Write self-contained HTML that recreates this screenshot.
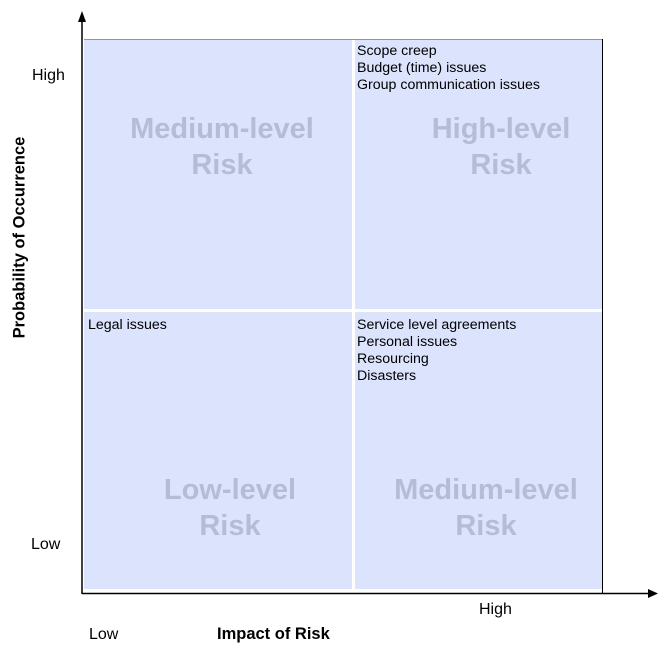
<!DOCTYPE html>
<html><head><meta charset="utf-8"><style>
body{margin:0;width:666px;height:652px;background:#fff;font-family:"Liberation Sans",sans-serif;position:relative;overflow:hidden}
.a{position:absolute}
.q{position:absolute;background:#dce3fc}
.t{position:absolute;font-size:14.2px;line-height:17px;color:#000}
.w{position:absolute;font-size:29px;font-weight:bold;color:#b5bdd6;text-align:center;line-height:36px}
.l{position:absolute;font-size:16px;color:#000}
</style></head><body>
<svg class="a" style="left:0;top:0" width="666" height="652">
<line x1="84" y1="39.5" x2="603" y2="39.5" stroke="#8a93b8" stroke-width="1"/>
<line x1="602.5" y1="39" x2="602.5" y2="594" stroke="#000" stroke-width="1"/>
<line x1="82" y1="594" x2="82" y2="20" stroke="#000" stroke-width="1.5"/>
<polygon points="78,22 86,22 82,11" fill="#000"/>
<line x1="82" y1="593.5" x2="650" y2="593.5" stroke="#000" stroke-width="1.5"/>
<polygon points="648,589 648,598 658,593.5" fill="#000"/>
</svg>
<div class="q" style="left:84px;top:40px;width:268px;height:269px"></div>
<div class="q" style="left:355px;top:40px;width:247px;height:269px"></div>
<div class="q" style="left:84px;top:312px;width:268px;height:277px"></div>
<div class="q" style="left:355px;top:312px;width:247px;height:277px"></div>
<div class="w" style="left:84px;top:111px;width:276px">Medium-level<br>Risk</div>
<div class="w" style="left:355px;top:111px;width:292px">High-level<br>Risk</div>
<div class="w" style="left:84px;top:472px;width:292px">Low-level<br>Risk</div>
<div class="w" style="left:355px;top:472px;width:262px">Medium-level<br>Risk</div>
<div class="t" style="left:357px;top:43px">Scope creep<br>Budget (time) issues<br>Group communication issues</div>
<div class="t" style="left:88px;top:317px">Legal issues</div>
<div class="t" style="left:357px;top:317px">Service level agreements<br>Personal issues<br>Resourcing<br>Disasters</div>
<div class="l" style="left:32px;top:67px">High</div>
<div class="l" style="left:31px;top:536px">Low</div>
<div class="l" style="left:479px;top:601px">High</div>
<div class="l" style="left:89px;top:626px">Low</div>
<div class="a" style="left:217px;top:625px;font-size:16.5px;font-weight:bold">Impact of Risk</div>
<div class="a" style="left:20px;top:238px;width:0;height:0"><div style="position:absolute;left:-120px;top:-10px;width:240px;text-align:center;font-size:16.5px;font-weight:bold;transform:rotate(-90deg);white-space:nowrap">Probability of Occurrence</div></div>
</body></html>
